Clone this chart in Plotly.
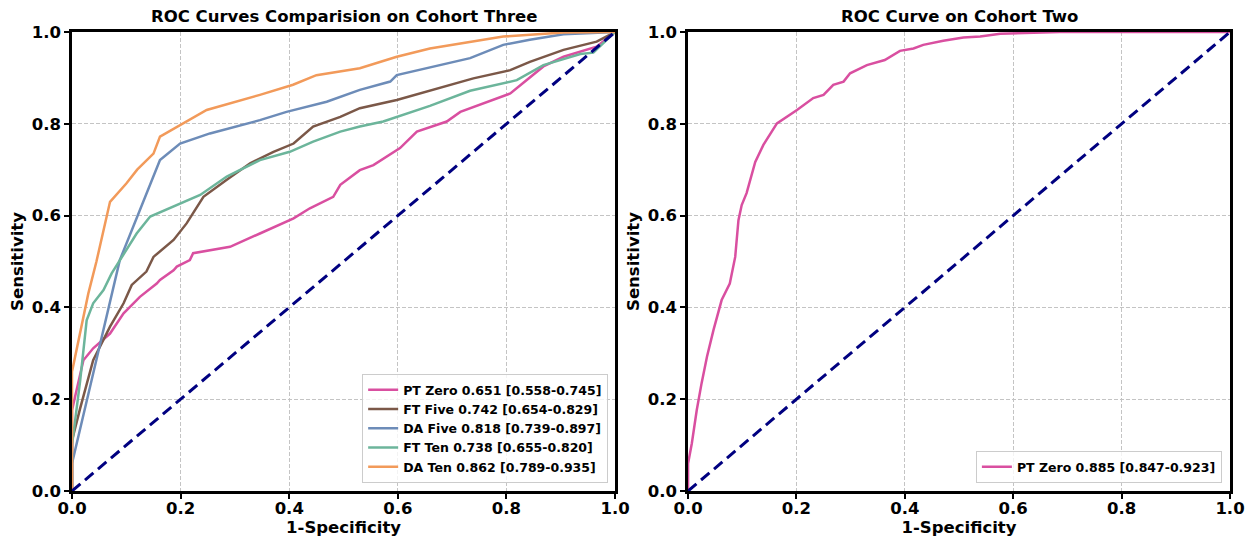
import plotly.graph_objects as go

# ---- Cohort Three (left) ----
pt_zero_fpr = [0.0, 0.0, 0.021, 0.039, 0.07, 0.095, 0.125, 0.156, 0.162, 0.187, 0.193, 0.217, 0.223, 0.291, 0.346, 0.408, 0.438, 0.481, 0.494, 0.53, 0.555, 0.604, 0.635, 0.69, 0.715, 0.807, 0.868, 0.905, 0.966, 1.0]
pt_zero_tpr = [0.0, 0.176, 0.285, 0.311, 0.343, 0.387, 0.423, 0.452, 0.46, 0.481, 0.489, 0.503, 0.518, 0.532, 0.561, 0.594, 0.616, 0.641, 0.667, 0.699, 0.71, 0.747, 0.783, 0.805, 0.826, 0.866, 0.925, 0.946, 0.968, 1.0]

ft_five_fpr = [0.0, 0.0, 0.015, 0.039, 0.07, 0.095, 0.11, 0.137, 0.15, 0.187, 0.211, 0.242, 0.285, 0.328, 0.371, 0.408, 0.444, 0.494, 0.53, 0.598, 0.739, 0.807, 0.843, 0.905, 0.966, 1.0]
ft_five_tpr = [0.0, 0.11, 0.18, 0.285, 0.358, 0.409, 0.449, 0.478, 0.51, 0.547, 0.583, 0.641, 0.678, 0.714, 0.739, 0.757, 0.794, 0.815, 0.834, 0.852, 0.899, 0.917, 0.935, 0.961, 0.979, 1.0]

da_five_fpr = [0.0, 0.0, 0.039, 0.088, 0.162, 0.199, 0.254, 0.346, 0.395, 0.469, 0.53, 0.586, 0.598, 0.733, 0.794, 0.843, 0.905, 1.0]
da_five_tpr = [0.0, 0.06, 0.256, 0.503, 0.721, 0.757, 0.779, 0.808, 0.826, 0.848, 0.874, 0.892, 0.906, 0.943, 0.972, 0.983, 0.995, 1.0]

ft_ten_fpr = [0.0, 0.0, 0.015, 0.027, 0.039, 0.058, 0.073, 0.088, 0.119, 0.144, 0.199, 0.236, 0.285, 0.346, 0.401, 0.444, 0.494, 0.53, 0.573, 0.659, 0.733, 0.819, 0.868, 0.936, 0.96, 1.0]
ft_ten_tpr = [0.0, 0.1, 0.24, 0.372, 0.409, 0.438, 0.474, 0.503, 0.561, 0.598, 0.627, 0.645, 0.685, 0.721, 0.739, 0.761, 0.783, 0.794, 0.805, 0.839, 0.872, 0.895, 0.928, 0.952, 0.955, 1.0]

da_ten_fpr = [0.0, 0.0, 0.03, 0.045, 0.07, 0.1, 0.12, 0.15, 0.162, 0.199, 0.248, 0.346, 0.407, 0.45, 0.53, 0.598, 0.659, 0.794, 0.843, 0.905, 1.0]
da_ten_tpr = [0.0, 0.26, 0.43, 0.5, 0.63, 0.67, 0.70, 0.735, 0.772, 0.797, 0.83, 0.863, 0.885, 0.906, 0.921, 0.946, 0.964, 0.99, 0.994, 0.999, 1.0]

# ---- Cohort Two (right) ----
c2_fpr = [0.0, 0.0, 0.007, 0.016, 0.025, 0.035, 0.047, 0.062, 0.077, 0.087, 0.093, 0.099, 0.108, 0.124, 0.139, 0.164, 0.201, 0.231, 0.25, 0.268, 0.287, 0.299, 0.33, 0.363, 0.391, 0.416, 0.434, 0.471, 0.508, 0.539, 0.576, 0.686, 1.0]
c2_tpr = [0.0, 0.06, 0.104, 0.176, 0.235, 0.293, 0.351, 0.416, 0.452, 0.51, 0.59, 0.623, 0.649, 0.717, 0.754, 0.801, 0.83, 0.856, 0.863, 0.885, 0.892, 0.91, 0.928, 0.939, 0.959, 0.964, 0.972, 0.981, 0.988, 0.99, 0.996, 1.0, 1.0]

labels_left = ["PT Zero 0.651 [0.558-0.745]", "FT Five 0.742 [0.654-0.829]",
               "DA Five 0.818 [0.739-0.897]", "FT Ten 0.738 [0.655-0.820]",
               "DA Ten 0.862 [0.789-0.935]"]
label_right = "PT Zero 0.885 [0.847-0.923]"
ticks = [0.0, 0.2, 0.4, 0.6, 0.8, 1.0]
tick_text = ["0.0", "0.2", "0.4", "0.6", "0.8", "1.0"]

colors = ["#D94FA0", "#7B5848", "#6D8CB8", "#6CB59B", "#F29A5A"]

FONT = "DejaVu Sans"
fig = go.Figure()

series = [(pt_zero_fpr, pt_zero_tpr), (ft_five_fpr, ft_five_tpr), (da_five_fpr, da_five_tpr),
          (ft_ten_fpr, ft_ten_tpr), (da_ten_fpr, da_ten_tpr)]
for (x, y), name, c in zip(series, labels_left, colors):
    fig.add_trace(go.Scatter(x=x, y=y, mode="lines", name=name, line=dict(color=c, width=2.5),
                             xaxis="x", yaxis="y", legend="legend"))
fig.add_trace(go.Scatter(x=[0, 1], y=[0, 1], mode="lines", showlegend=False,
                         line=dict(color="#000080", width=3, dash="11px,6px"), xaxis="x", yaxis="y"))

fig.add_trace(go.Scatter(x=c2_fpr, y=c2_tpr, mode="lines", name=label_right,
                         line=dict(color=colors[0], width=2.5), xaxis="x2", yaxis="y2", legend="legend2"))
fig.add_trace(go.Scatter(x=[0, 1], y=[0, 1], mode="lines", showlegend=False,
                         line=dict(color="#000080", width=3, dash="11px,6px"), xaxis="x2", yaxis="y2"))

def ax(domain, anchor, title, is_x):
    d = dict(domain=domain, anchor=anchor, range=[0, 1], tickvals=ticks, ticktext=tick_text,
             showline=True, linecolor="black", linewidth=2.5, mirror=True,
             ticks="outside", ticklen=5, tickwidth=1.5, tickcolor="black",
             showgrid=True, gridcolor="#c4c4c4", griddash="4px,2px", gridwidth=1,
             zeroline=False, automargin=False,
             tickfont=dict(family=FONT, size=16.5, color="black", weight="bold"),
             title=dict(text=title, font=dict(family=FONT, size=16.5, color="black", weight="bold"), standoff=4))
    if is_x:
        d["ticklabelstandoff"] = -5
    return d

fig.update_layout(
    width=1245, height=533, plot_bgcolor="white", paper_bgcolor="white",
    margin=dict(l=64, r=23, t=24, b=50),
    xaxis=ax([0, 0.469], "y", "1-Specificity", True),
    yaxis=ax([0, 1], "x", "Sensitivity", False),
    xaxis2=ax([0.532, 1], "y2", "1-Specificity", True),
    yaxis2=ax([0, 1], "x2", "Sensitivity", False),
    legend=dict(x=0.463, y=0.017, xanchor="right", yanchor="bottom", bgcolor="rgba(255,255,255,0.8)",
                bordercolor="#cccccc", borderwidth=1, font=dict(family=FONT, size=12.5, color="black", weight="bold"),
                tracegroupgap=0, itemwidth=30),
    legend2=dict(x=0.993, y=0.017, xanchor="right", yanchor="bottom", bgcolor="rgba(255,255,255,0.8)",
                 bordercolor="#cccccc", borderwidth=1, font=dict(family=FONT, size=12.5, color="black", weight="bold"),
                 itemwidth=30),
    annotations=[
        dict(text="ROC Curves Comparision on Cohort Three", x=0.2345, y=1, xref="paper", yref="paper",
             xanchor="center", yanchor="bottom", yshift=4, showarrow=False,
             font=dict(family=FONT, size=16.5, color="black", weight="bold")),
        dict(text="ROC Curve on Cohort Two", x=0.766, y=1, xref="paper", yref="paper",
             xanchor="center", yanchor="bottom", yshift=4, showarrow=False,
             font=dict(family=FONT, size=16.5, color="black", weight="bold")),
    ],
)

fig.write_html("out.html")
